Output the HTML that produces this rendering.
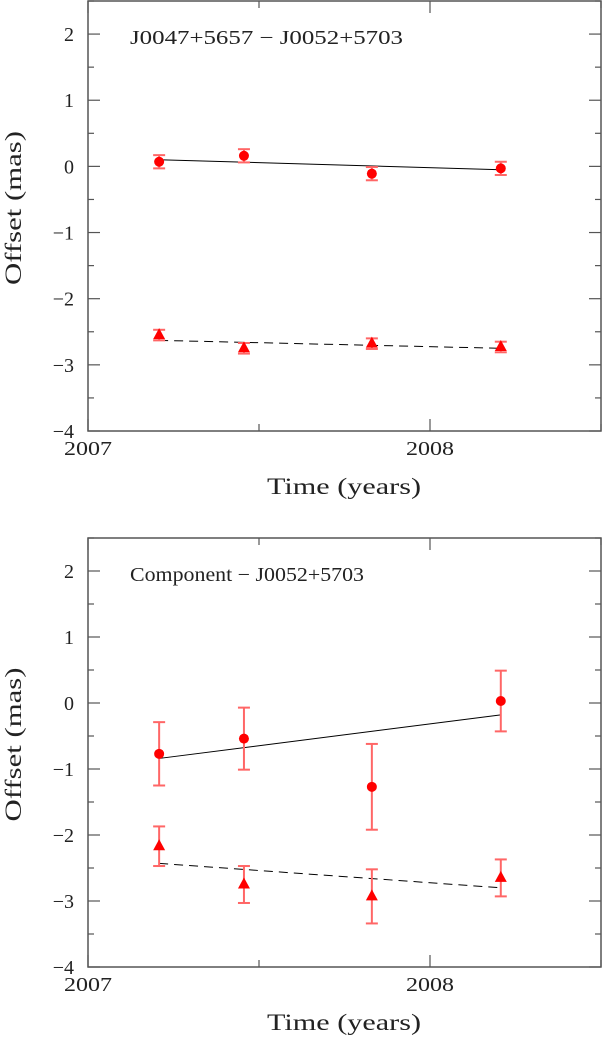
<!DOCTYPE html>
<html><head><meta charset="utf-8"><style>
html,body{margin:0;padding:0;background:#fff;}
svg{display:block;font-family:"Liberation Serif",serif;}
</style></head><body>
<svg id="chart" width="602" height="1037" viewBox="0 0 602 1037" xmlns="http://www.w3.org/2000/svg"></svg>
<script>
const years = [2007.208, 2007.456, 2007.830, 2008.207];
const topCircle = [0.07, 0.16, -0.11, -0.03];
const topCircleErr = [0.10, 0.10, 0.10, 0.10];
const topTri = [-2.55, -2.75, -2.68, -2.73];
const topTriErr = [0.08, 0.08, 0.08, 0.08];
const topFitSolid = [0.10, -0.05];
const topFitDashed = [-2.63, -2.75];
const botCircle = [-0.77, -0.54, -1.27, 0.03];
const botCircleErr = [0.48, 0.47, 0.65, 0.46];
const botTri = [-2.17, -2.75, -2.93, -2.65];
const botTriErr = [0.30, 0.28, 0.41, 0.28];
const botFitSolid = [-0.84, -0.18];
const botFitDashed = [-2.43, -2.80];
const yTicks = [2, 1, 0, -1, -2, -3, -4];
const xTickLabels = [2007, 2008];

const NS = "http://www.w3.org/2000/svg";
const svg = document.getElementById('chart');
function mk(tag, attrs, parent) {
  const e = document.createElementNS(NS, tag);
  for (const k in attrs) e.setAttribute(k, attrs[k]);
  (parent || svg).appendChild(e);
  return e;
}
const X0 = 88, X1 = 601, xmin = 2007, xmax = 2008.5;
function xs(v) { return X0 + (v - xmin) / (xmax - xmin) * (X1 - X0); }

function panel(name, top, bottom, title, titleLen, circ, circErr, tri, triErr, fitS, fitD) {
  const g = mk('g', {});
  
  
  const ymin = -4, ymax = 2.5;
  const ys = v => bottom - (v - ymin) / (ymax - ymin) * (bottom - top);
  const fr = mk('rect', {x: X0, y: top, width: X1 - X0, height: bottom - top, fill: 'none', stroke: '#555', 'stroke-width': 1.5}, g);
  
  
  for (let v = -4; v <= 2.5; v += 0.5) {
    const len = Number.isInteger(v) ? 12 : 6;
    mk('line', {x1: X0, x2: X0 + len, y1: ys(v), y2: ys(v), stroke: '#555', 'stroke-width': 1.2}, g);
    mk('line', {x1: X1 - len, x2: X1, y1: ys(v), y2: ys(v), stroke: '#555', 'stroke-width': 1.2}, g);
  }
  yTicks.forEach(v => {
    const t = mk('text', {x: X0 - 14, y: ys(v) + 7, 'text-anchor': 'end', 'font-size': 20, fill: '#222'}, g);
    t.textContent = v < 0 ? '\u2212' + Math.abs(v) : String(v);
    
    
  });
  for (let v = 2007; v <= 2008.5; v += 0.5) {
    const len = Number.isInteger(v) ? 12 : 7;
    mk('line', {x1: xs(v), x2: xs(v), y1: bottom, y2: bottom - len, stroke: '#555', 'stroke-width': 1.2}, g);
    mk('line', {x1: xs(v), x2: xs(v), y1: top, y2: top + len, stroke: '#555', 'stroke-width': 1.2}, g);
  }
  xTickLabels.forEach(v => {
    const t = mk('text', {x: xs(v) - 24, y: bottom + 24, 'font-size': 20, fill: '#222', textLength: 48, lengthAdjust: 'spacingAndGlyphs'}, g);
    t.textContent = String(v);
    
    
  });
  const xl = mk('text', {x: 267, y: bottom + 63, 'font-size': 23, fill: '#222', textLength: 154, lengthAdjust: 'spacingAndGlyphs'}, g);
  xl.textContent = 'Time (years)';
  
  
  const yc = (top + bottom) / 2 - 8;
  const yl = mk('text', {x: -77, y: 0, 'font-size': 23, fill: '#222', textLength: 154, lengthAdjust: 'spacingAndGlyphs', transform: `translate(21,${yc}) rotate(-90)`}, g);
  yl.textContent = 'Offset (mas)';
  
  
  const tt = mk('text', {x: 130, y: top + 43, 'font-size': 20, fill: '#222', textLength: titleLen, lengthAdjust: 'spacingAndGlyphs'}, g);
  tt.textContent = title;
  
  
  const l1 = mk('line', {x1: xs(years[0]), x2: xs(years[3]), y1: ys(fitS[0]), y2: ys(fitS[1]), stroke: '#000', 'stroke-width': 1}, g);
  
  
  const l2 = mk('line', {x1: xs(years[0]), x2: xs(years[3]), y1: ys(fitD[0]), y2: ys(fitD[1]), stroke: '#000', 'stroke-width': 1, 'stroke-dasharray': '9,6'}, g);
  
  
  function ebar(x, v, e) {
    const eg = mk('g', {stroke: '#f66', 'stroke-width': 2}, g);
    
    
    mk('line', {x1: x, x2: x, y1: ys(v + e), y2: ys(v - e)}, eg);
    mk('line', {x1: x - 6, x2: x + 6, y1: ys(v + e), y2: ys(v + e)}, eg);
    mk('line', {x1: x - 6, x2: x + 6, y1: ys(v - e), y2: ys(v - e)}, eg);
  }
  years.forEach((yr, i) => {
    const x = xs(yr);
    ebar(x, circ[i], circErr[i]);
    const c = mk('circle', {cx: x, cy: ys(circ[i]), r: 5, fill: '#f00'}, g);
    
    
    ebar(x, tri[i], triErr[i]);
    const y = ys(tri[i]);
    const p = mk('polygon', {points: `${x},${y - 7} ${x - 6},${y + 4} ${x + 6},${y + 4}`, fill: '#f00'}, g);
    
    
  });
}
panel('top-panel', 1, 431, 'J0047+5657 \u2212 J0052+5703', 273, topCircle, topCircleErr, topTri, topTriErr, topFitSolid, topFitDashed);
panel('bottom-panel', 538, 967, 'Component \u2212 J0052+5703', 234, botCircle, botCircleErr, botTri, botTriErr, botFitSolid, botFitDashed);
</script>
</body></html>
